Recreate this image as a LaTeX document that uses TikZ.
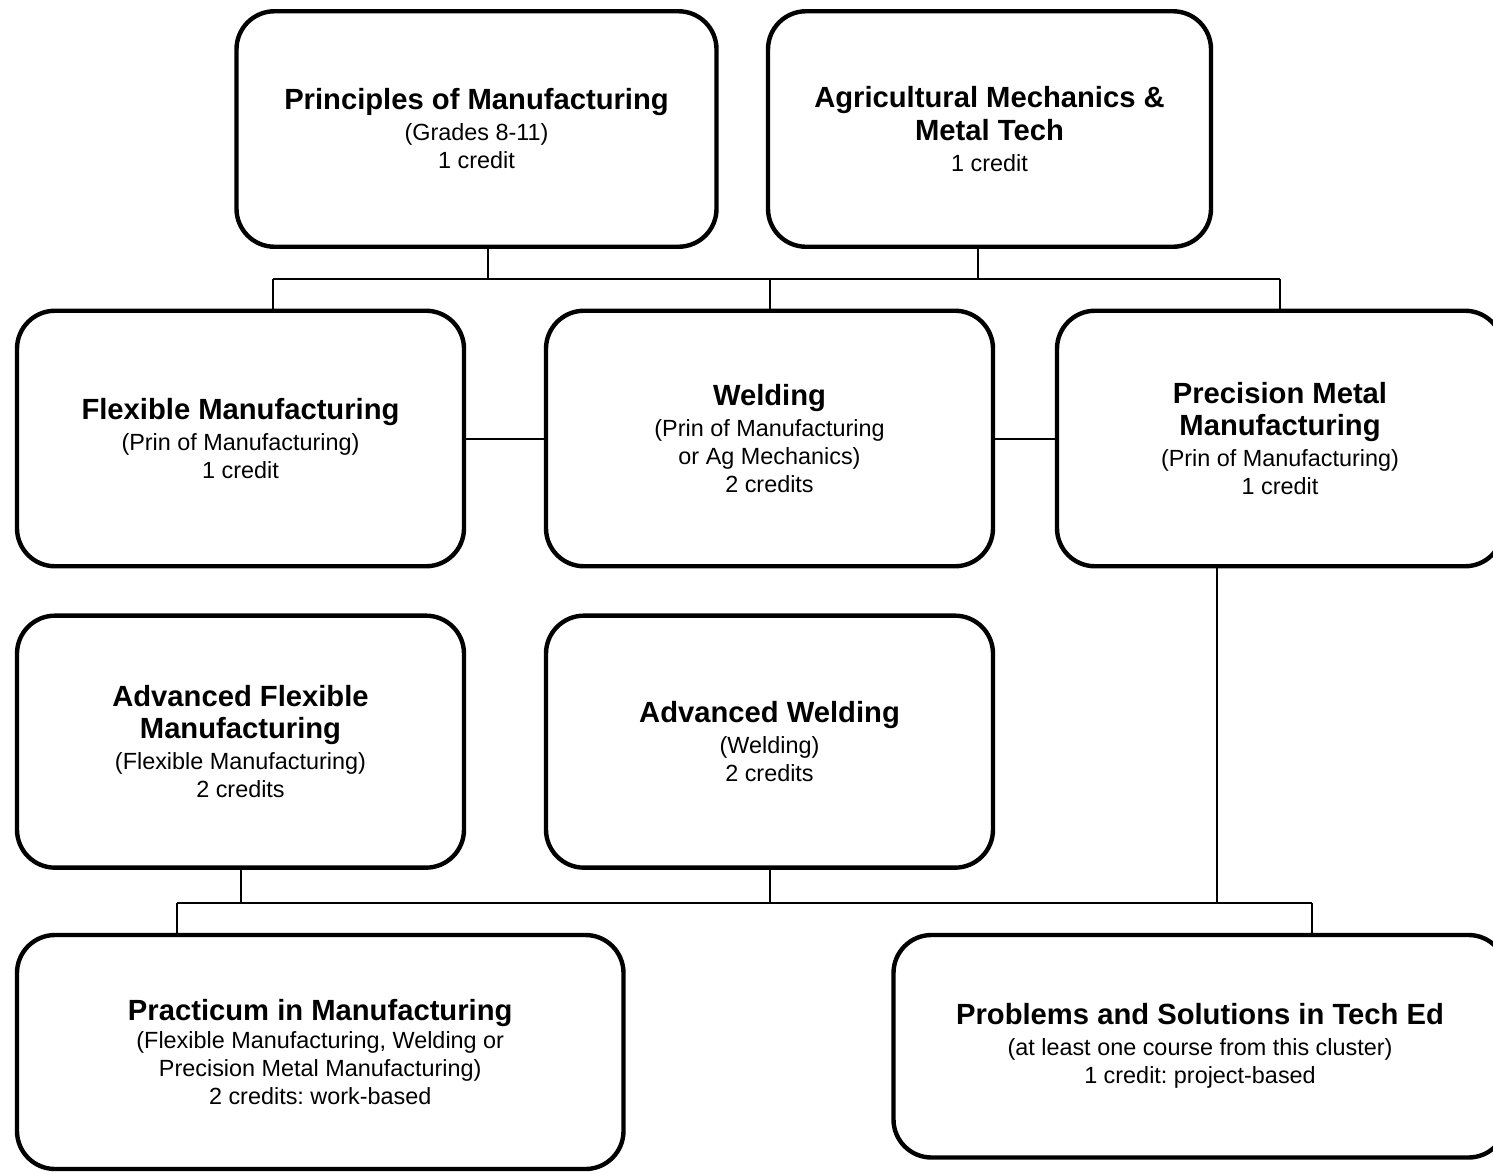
\documentclass[tikz,border=0pt]{standalone}
\usepackage{fontspec}
\setmainfont{Liberation Sans}
\usepackage{tikz}
\usetikzlibrary{positioning}
\frenchspacing
\newcommand{\ctitle}[1]{{\fontsize{14.6}{16}\selectfont\bfseries #1}}

\begin{document}
\begin{tikzpicture}[
    x=0.5pt, y=-0.5pt,
    course/.style={rectangle, draw, line width=2.2pt, rounded corners=19pt, align=center, inner sep=0pt, font=\fontsize{11.7}{14}\selectfont},
    link/.style={line width=1pt}
]
    \useasboundingbox (0,0) rectangle (1493,1173);
    \clip (0,0) rectangle (1493,1173);

    \node[course, minimum width=240pt, minimum height=117.75pt] (prin) at (476.5,129) {\ctitle{Principles of Manufacturing}\\[1.5pt](Grades 8-11)\\1 credit};
    \node[course, minimum width=221.5pt, minimum height=117.75pt] (agri) at (989.5,129) {\ctitle{Agricultural Mechanics \&}\\[2.25pt]\ctitle{Metal Tech}\\[1.5pt]1 credit};

    \node[course, minimum width=223.5pt, minimum height=127.75pt] (flex) at (240.5,438.5) {\ctitle{Flexible Manufacturing}\\[1.5pt](Prin of Manufacturing)\\1 credit};
    \node[course, minimum width=223.5pt, minimum height=127.75pt] (weld) at (769.5,438.5) {\ctitle{Welding}\\[1.5pt](Prin of Manufacturing\\or Ag Mechanics)\\2 credits};
    \node[course, minimum width=223pt, minimum height=127.75pt] (prec) at (1280,438.5) {\ctitle{Precision Metal}\\[2.25pt]\ctitle{Manufacturing}\\[1.5pt](Prin of Manufacturing)\\1 credit};

    \node[course, minimum width=223.5pt, minimum height=126pt, below=22.5pt of flex] (advflex) {\ctitle{Advanced Flexible}\\[2.25pt]\ctitle{Manufacturing}\\[1.5pt](Flexible Manufacturing)\\2 credits};
    \node[course, minimum width=223.5pt, minimum height=126pt, below=22.5pt of weld] (advweld) {\ctitle{Advanced Welding}\\[1.5pt](Welding)\\2 credits};

    \node[course, minimum width=303.25pt, minimum height=117pt] (pract) at (320.25,1052) {\ctitle{Practicum in Manufacturing}\\(Flexible Manufacturing, Welding or\\Precision Metal Manufacturing)\\2 credits: work-based};
    \node[course, minimum width=306.5pt, minimum height=111.25pt] (probs) at (1200,1046.25) {\ctitle{Problems and Solutions in Tech Ed}\\[1.5pt](at least one course from this cluster)\\1 credit: project-based};

    % upper bus
    \coordinate (topL) at (273,279);
    \coordinate (topR) at (1280,279);
    \draw[link] (topL) -- (topR);
    \draw[link] ([xshift=5.5pt]prin.south) -- ([xshift=5.5pt]prin.south |- topL);
    \draw[link] ([xshift=-5.75pt]agri.south) -- ([xshift=-5.75pt]agri.south |- topL);
    \draw[link] (topL) -- (topL |- flex.north);
    \draw[link] (weld.north) -- (weld.north |- topL);
    \draw[link] (topR) -- (prec.north);

    \draw[link] (flex) -- (weld);
    \draw[link] (weld) -- (prec);

    % lower bus
    \coordinate (lowL) at (177,903);
    \coordinate (lowR) at (1312,903);
    \draw[link] (lowL) -- (lowR);
    \draw[link] (advflex.south) -- (advflex.south |- lowL);
    \draw[link] (advweld.south) -- (advweld.south |- lowL);
    \draw[link] ([xshift=-31.75pt]prec.south) -- ([xshift=-31.75pt]prec.south |- lowL);
    \draw[link] (lowL) -- (lowL |- pract.north);
    \draw[link] (lowR) -- (lowR |- probs.north);
\end{tikzpicture}
\end{document}
